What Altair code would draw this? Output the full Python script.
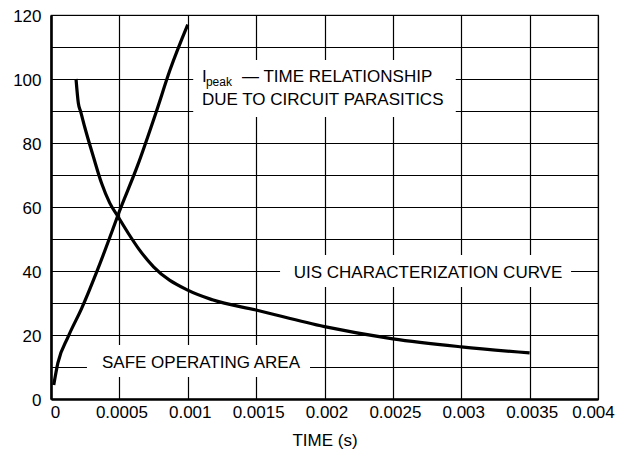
import altair as alt
import pandas as pd

# Ipeak - time relationship (rising curve)
ipeak_t = [0.00002, 0.00005, 0.000125, 0.000225, 0.000335, 0.00045, 0.00049, 0.00063, 0.00077, 0.00087, 0.001]
ipeak_v = [4.4, 11.2, 19.4, 28.4, 39.8, 52.8, 57.5, 72.6, 89.8, 102.8, 117.0]

# UIS characterization curve (falling curve)
uis_t = [0.000183, 0.0002, 0.000217, 0.000249, 0.00031, 0.00037, 0.00043, 0.00049, 0.000565, 0.00064,
         0.00075, 0.001, 0.00118, 0.0015, 0.002, 0.0025, 0.003, 0.0035]
uis_v = [100.0, 92.4, 89.8, 84.6, 75.7, 67.4, 61.2, 57.0, 51.8, 47.0,
         41.3, 34.0, 31.0, 27.8, 22.6, 18.8, 16.3, 14.4]

x_ticks = [0, 0.0005, 0.001, 0.0015, 0.002, 0.0025, 0.003, 0.0035, 0.004]
y_grid = [0, 10, 20, 30, 40, 50, 60, 70, 80, 90, 100, 110, 120]

FONT = "Liberation Sans"
FS = 17

ipeak = pd.DataFrame({"t": ipeak_t, "v": ipeak_v})
uis = pd.DataFrame({"t": uis_t, "v": uis_v})

# annotation label boxes (white backgrounds that hide the grid)
boxes = pd.DataFrame({
    "t": [0.00104, 0.001675, 0.000263],
    "t2": [0.00296, 0.003803, 0.001894],
    "v": [88.1, 35.0, 6.9],
    "v2": [105.9, 45.0, 16.9],
})

labels_left = pd.DataFrame({
    "t": [0.001104, 0.001104],
    "v": [99.1, 91.9],
    "text": ["I", "DUE TO CIRCUIT PARASITICS"],
})
labels_center = pd.DataFrame({
    "t": [0.002757, 0.001097],
    "v": [37.8, 9.7],
    "text": ["UIS CHARACTERIZATION CURVE", "SAFE OPERATING AREA"],
})
sub = pd.DataFrame({"t": [0.001133], "v": [97.9], "text": ["peak"]})
dash = pd.DataFrame({"t": [0.001397], "v": [99.1], "text": ["— TIME RELATIONSHIP"]})

xs = alt.Scale(domain=[0, 0.004], nice=False)
ys = alt.Scale(domain=[0, 120], nice=False)

xaxis = alt.Axis(values=x_ticks, format=".4~f", grid=True, ticks=False, labelOverlap=False,
                 labelFlush=False, labelPadding=5, titlePadding=12,
                 labelOffset={"condition": [{"test": "datum.value == 0", "value": 4},
                                            {"test": "datum.value >= 0.004", "value": -5}],
                              "value": 2})
yaxis = alt.Axis(values=y_grid, grid=True, ticks=False, labelPadding=10, labelOverlap=False,
                 labelFlush=False, labelOffset=1,
                 labelExpr="datum.value % 20 == 0 ? datum.label : ''")

X = alt.X("t:Q", scale=xs, title="TIME (s)", axis=xaxis)
Y = alt.Y("v:Q", scale=ys, title=None, axis=yaxis)

line1 = alt.Chart(ipeak).mark_line(color="black", strokeWidth=3.2, interpolate="monotone").encode(x=X, y=Y)
line2 = alt.Chart(uis).mark_line(color="black", strokeWidth=3.2, interpolate="monotone").encode(x=X, y=Y)

rects = alt.Chart(boxes).mark_rect(color="white").encode(x=X, x2="t2:Q", y=Y, y2="v2:Q")

text_left = alt.Chart(labels_left).mark_text(
    align="left", baseline="alphabetic", font=FONT, fontSize=FS, color="black"
).encode(x=X, y=Y, text="text:N")

text_center = alt.Chart(labels_center).mark_text(
    align="center", baseline="alphabetic", font=FONT, fontSize=FS, color="black"
).encode(x=X, y=Y, text="text:N")

text_sub = alt.Chart(sub).mark_text(
    align="left", baseline="alphabetic", font=FONT, fontSize=12, color="black"
).encode(x=X, y=Y, text="text:N")

text_dash = alt.Chart(dash).mark_text(
    align="left", baseline="alphabetic", font=FONT, fontSize=FS, color="black"
).encode(x=X, y=Y, text="text:N")

chart = alt.layer(line1, line2, rects, text_left, text_center, text_sub, text_dash).properties(
    width=547, height=384,
    padding={"left": 43, "top": 7, "right": 20, "bottom": 58},
    autosize=alt.AutoSizeParams(type="none"),
    background="white",
).configure_view(
    stroke="#333", strokeWidth=1.2,
).configure_axis(
    domainColor="black", domainWidth=2.6,
    gridColor="black", gridWidth=1.2, gridOpacity=1,
    labelFont=FONT, labelFontSize=FS, labelColor="black",
    titleFont=FONT, titleFontSize=FS, titleFontWeight="normal", titleColor="black",
)

chart.save("out.html", embed_options={"renderer": "svg", "actions": False})
